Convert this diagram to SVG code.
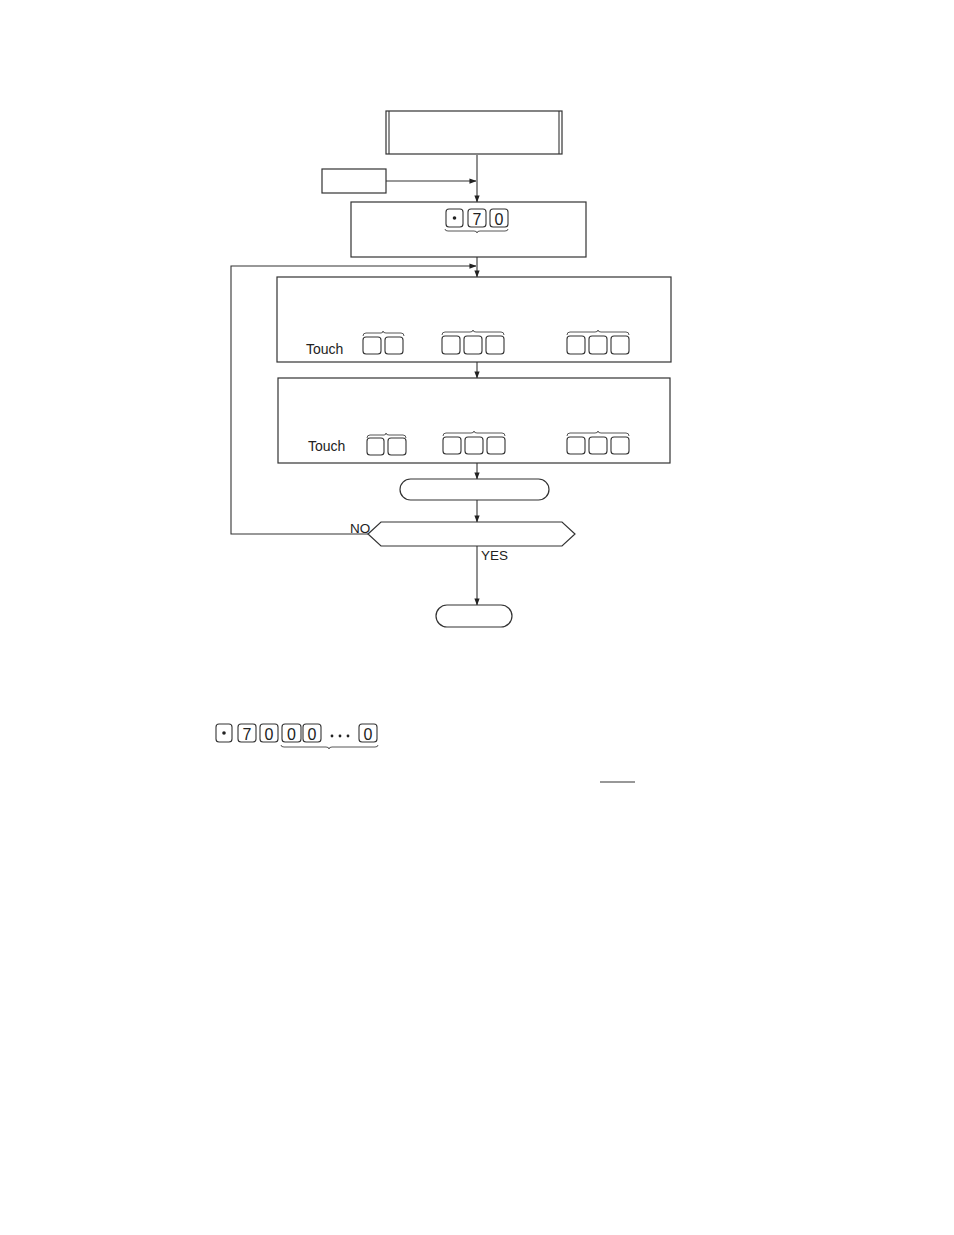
<svg xmlns="http://www.w3.org/2000/svg" width="954" height="1235" viewBox="0 0 954 1235">
<defs>
<style>
.ln{fill:none;stroke:#333;stroke-width:1.1}
.bx{fill:#fff;stroke:#333;stroke-width:1.2}
.key{fill:#fff;stroke:#333;stroke-width:1.1}
.br{fill:none;stroke:#444;stroke-width:0.9}
.t{font-family:"Liberation Sans",Arial,sans-serif;fill:#222}
</style>
<marker id="ah" viewBox="0 0 8 8" refX="7.5" refY="4" markerWidth="7" markerHeight="7" markerUnits="userSpaceOnUse" orient="auto">
<path d="M0,1 L8,4 L0,7 Z" fill="#222"/>
</marker>
</defs>
<rect width="954" height="1235" fill="#fff"/>

<g id="connectors">
<line class="ln" x1="477" y1="155" x2="477" y2="202" marker-end="url(#ah)"/>
<line class="ln" x1="386" y1="181" x2="476" y2="181" marker-end="url(#ah)"/>
<line class="ln" x1="477" y1="257" x2="477" y2="277" marker-end="url(#ah)"/>
<polyline class="ln" points="368,534 231,534 231,266 476,266" marker-end="url(#ah)"/>
<line class="ln" x1="477" y1="362" x2="477" y2="378" marker-end="url(#ah)"/>
<line class="ln" x1="477" y1="463" x2="477" y2="479" marker-end="url(#ah)"/>
<line class="ln" x1="477" y1="500" x2="477" y2="522" marker-end="url(#ah)"/>
<line class="ln" x1="477" y1="546" x2="477" y2="605" marker-end="url(#ah)"/>
<text class="t" x="350" y="533" font-size="13.5">NO</text>
<text class="t" x="481" y="560" font-size="13.5">YES</text>
</g>

<g id="node-start">
<rect class="bx" x="386" y="111" width="176" height="43"/>
<line class="ln" x1="389" y1="111" x2="389" y2="154"/>
<line class="ln" x1="559" y1="111" x2="559" y2="154"/>
</g>

<g id="node-side">
<rect class="bx" x="322" y="169" width="64" height="24"/>
</g>

<g id="node-enter">
<rect class="bx" x="351" y="202" width="235" height="55"/>
<rect class="key" x="446" y="209" width="17" height="18" rx="3"/>
<circle cx="454.5" cy="218" r="1.8" fill="#222"/>
<rect class="key" x="468" y="209" width="18" height="18" rx="3"/>
<text class="t" x="477" y="224.5" font-size="16" text-anchor="middle">7</text>
<rect class="key" x="490" y="209" width="18" height="18" rx="3"/>
<text class="t" x="499" y="224.5" font-size="16" text-anchor="middle">0</text>
<path class="br" d="M445,229 Q445,231 448,231 L474,231 Q477,231 477,233 Q477,231 480,231 L505,231 Q508,231 508,229"/>
</g>

<g id="node-touch1">
<rect class="bx" x="277" y="277" width="394" height="85"/>
<text class="t" x="306" y="354" font-size="14">Touch</text>
<path class="br" d="M363,336 Q363,333 366,333 L381,333 Q383,333 383,331 Q383,333 386,333 L401,333 Q404,333 404,336"/>
<rect class="key" x="363" y="337" width="18" height="17" rx="3"/>
<rect class="key" x="385" y="337" width="18" height="17" rx="3"/>
<path class="br" d="M442,335 Q442,332 445,332 L470,332 Q473,332 473,330 Q473,332 476,332 L501,332 Q504,332 504,335"/>
<rect class="key" x="442" y="336" width="18" height="18" rx="3"/>
<rect class="key" x="464" y="336" width="18" height="18" rx="3"/>
<rect class="key" x="486" y="336" width="18" height="18" rx="3"/>
<path class="br" d="M567,335 Q567,332 570,332 L595,332 Q598,332 598,330 Q598,332 601,332 L626,332 Q629,332 629,335"/>
<rect class="key" x="567" y="336" width="18" height="18" rx="3"/>
<rect class="key" x="589" y="336" width="18" height="18" rx="3"/>
<rect class="key" x="611" y="336" width="18" height="18" rx="3"/>
</g>

<g id="node-touch2">
<rect class="bx" x="278" y="378" width="392" height="85"/>
<text class="t" x="308" y="451" font-size="14">Touch</text>
<path class="br" d="M367,438 Q367,435 370,435 L384,435 Q386,435 386,433 Q386,435 389,435 L403,435 Q406,435 406,438"/>
<rect class="key" x="367" y="438" width="17" height="17" rx="3"/>
<rect class="key" x="388" y="438" width="18" height="17" rx="3"/>
<path class="br" d="M443,436 Q443,433 446,433 L471,433 Q474,433 474,431 Q474,433 477,433 L502,433 Q505,433 505,436"/>
<rect class="key" x="443" y="437" width="18" height="17" rx="3"/>
<rect class="key" x="465" y="437" width="18" height="17" rx="3"/>
<rect class="key" x="487" y="437" width="18" height="17" rx="3"/>
<path class="br" d="M567,436 Q567,433 570,433 L595,433 Q598,433 598,431 Q598,433 601,433 L626,433 Q629,433 629,436"/>
<rect class="key" x="567" y="437" width="18" height="17" rx="3"/>
<rect class="key" x="589" y="437" width="18" height="17" rx="3"/>
<rect class="key" x="611" y="437" width="18" height="17" rx="3"/>
</g>

<g id="node-process">
<rect class="bx" x="400" y="479" width="149" height="21" rx="10.5"/>
</g>

<g id="node-decision">
<polygon class="bx" points="368,534 381,522 562,522 575,534 562,546 381,546"/>
</g>

<g id="node-end">
<rect class="bx" x="436" y="605" width="76" height="22" rx="11"/>
</g>

<g id="key-sequence">
<rect class="key" x="216" y="724" width="16" height="18" rx="3"/>
<circle cx="224" cy="733" r="1.8" fill="#222"/>
<rect class="key" x="238" y="724" width="18" height="18" rx="3"/>
<text class="t" x="247" y="739.5" font-size="16" text-anchor="middle">7</text>
<rect class="key" x="260" y="724" width="18" height="18" rx="3"/>
<text class="t" x="269" y="739.5" font-size="16" text-anchor="middle">0</text>
<rect class="key" x="282" y="724" width="19" height="18" rx="3"/>
<text class="t" x="291.5" y="739.5" font-size="16" text-anchor="middle">0</text>
<rect class="key" x="303" y="724" width="18" height="18" rx="3"/>
<text class="t" x="312" y="739.5" font-size="16" text-anchor="middle">0</text>
<circle cx="332" cy="736" r="1.4" fill="#222"/>
<circle cx="340" cy="736" r="1.4" fill="#222"/>
<circle cx="348" cy="736" r="1.4" fill="#222"/>
<rect class="key" x="359" y="724" width="18" height="18" rx="3"/>
<text class="t" x="368" y="739.5" font-size="16" text-anchor="middle">0</text>
<path class="br" d="M281,745 Q281,747 284,747 L326,747 Q329,747 329,749 Q329,747 332,747 L375,747 Q378,747 378,745"/>
<line class="ln" x1="600" y1="782" x2="635" y2="782"/>
</g>
</svg>
